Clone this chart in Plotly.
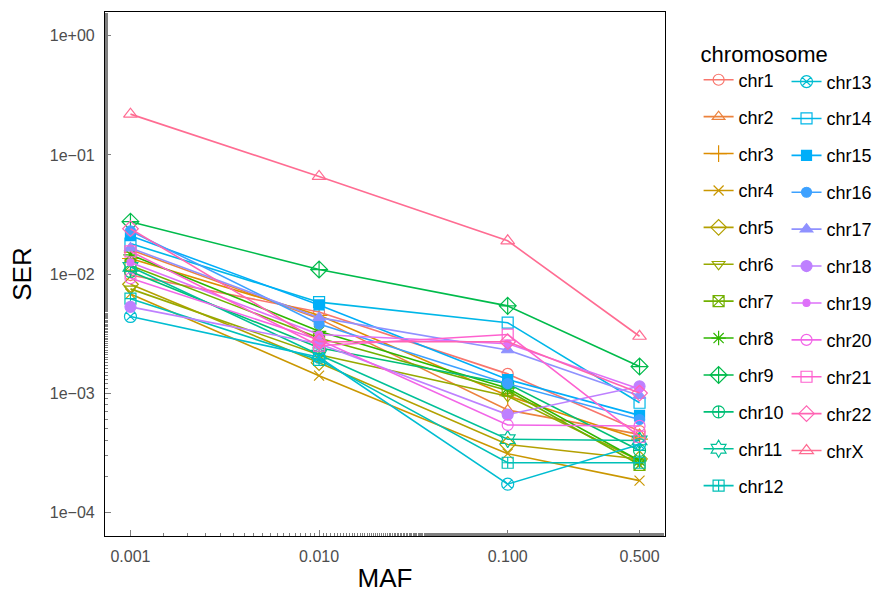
import math
import plotly.graph_objects as go

# ---------------- data ----------------
maf = [0.001, 0.01, 0.1, 0.5]
chromosomes = ["chr1", "chr2", "chr3", "chr4", "chr5", "chr6", "chr7", "chr8",
               "chr9", "chr10", "chr11", "chr12", "chr13", "chr14", "chr15",
               "chr16", "chr17", "chr18", "chr19", "chr20", "chr21", "chr22", "chrX"]
ser_chr1 = [0.0098, 0.0048, 0.00145, 0.00048]
ser_chr2 = [0.016, 0.0042, 0.00072, 0.00045]
ser_chr3 = [0.0135, 0.0045, 0.00095, 0.00041]
ser_chr4 = [0.0068, 0.0014, 0.00031, 0.000184]
ser_chr5 = [0.0082, 0.0018, 0.00037, 0.00028]
ser_chr6 = [0.0075, 0.0021, 0.00094, 0.00027]
ser_chr7 = [0.0118, 0.0029, 0.00105, 0.00025]
ser_chr8 = [0.0145, 0.0033, 0.0011, 0.00027]
ser_chr9 = [0.0275, 0.0109, 0.0054, 0.00167]
ser_chr10 = [0.0105, 0.0024, 0.0012, 0.00033]
ser_chr11 = [0.0115, 0.0021, 0.00041, 0.0004]
ser_chr12 = [0.0062, 0.0019, 0.00026, 0.00026]
ser_chr13 = [0.0044, 0.0020, 0.000172, 0.00037]
ser_chr14 = [0.018, 0.0058, 0.0039, 0.00083]
ser_chr15 = [0.021, 0.0055, 0.0013, 0.00065]
ser_chr16 = [0.023, 0.0038, 0.0012, 0.0006]
ser_chr17 = [0.0165, 0.0043, 0.0023, 0.00095]
ser_chr18 = [0.0053, 0.0026, 0.00066, 0.00114]
ser_chr19 = [0.0125, 0.0031, 0.0026, 0.00108]
ser_chr20 = [0.0092, 0.0028, 0.00054, 0.00053]
ser_chr21 = [0.0155, 0.0025, 0.0031, 0.00043]
ser_chr22 = [0.024, 0.0027, 0.0027, 0.0010]
ser_chrX = [0.22, 0.066, 0.019, 0.003]
series = [ser_chr1, ser_chr2, ser_chr3, ser_chr4, ser_chr5, ser_chr6, ser_chr7,
          ser_chr8, ser_chr9, ser_chr10, ser_chr11, ser_chr12, ser_chr13, ser_chr14,
          ser_chr15, ser_chr16, ser_chr17, ser_chr18, ser_chr19, ser_chr20,
          ser_chr21, ser_chr22, ser_chrX]

x_tickvals = [0.001, 0.01, 0.1, 0.5]
x_ticktext = ["0.001", "0.010", "0.100", "0.500"]
y_tickvals = [1e-4, 1e-3, 1e-2, 1e-1, 1]
y_ticktext = ["1e\u221204", "1e\u221203", "1e\u221202", "1e\u221201", "1e+00"]

# ---------------- styles ----------------
def hcl_hex(h, c=100.0, l=65.0):
    hr = math.radians(h)
    u, v = c * math.cos(hr), c * math.sin(hr)
    Y = ((l + 16) / 116) ** 3 if l > 8 else l / 903.3
    un, vn = 0.19784, 0.46834
    up = u / (13 * l) + un
    vp = v / (13 * l) + vn
    X = Y * 9 * up / (4 * vp)
    Z = Y * (12 - 3 * up - 20 * vp) / (4 * vp)
    r = 3.2406 * X - 1.5372 * Y - 0.4986 * Z
    g = -0.9689 * X + 1.8758 * Y + 0.0415 * Z
    b = 0.0557 * X - 0.2040 * Y + 1.0570 * Z

    def gam(t):
        t = max(0.0, min(1.0, t))
        return 12.92 * t if t <= 0.0031308 else 1.055 * t ** (1 / 2.4) - 0.055
    return "#%02X%02X%02X" % tuple(int(round(255 * gam(t))) for t in (r, g, b))

n = len(chromosomes)
colors = [hcl_hex(15 + 360 * i / n) for i in range(n)]
symbols = ["circle-open", "triangle-up-open", "cross-thin-open", "x-thin-open",
           "diamond-open", "triangle-down-open", "square-x-open", "asterisk-open",
           "diamond-cross-open", "circle-cross-open", "hexagram-open",
           "square-cross-open", "circle-x-open", "square-open", "square",
           "circle", "triangle-up", "circle", "circle", "circle-open",
           "square-open", "diamond-open", "triangle-up-open"]
sizes = [11, 11, 12, 10, 12, 11, 11, 12, 13, 12, 13, 11, 12, 11, 10, 10, 11,
         11, 7, 11, 11, 12, 12]

FONT = "Liberation Sans, Arial, sans-serif"
fig = go.Figure()
for i, (name, ys) in enumerate(zip(chromosomes, series)):
    fig.add_trace(go.Scatter(
        x=maf, y=ys, name=name, mode="lines+markers",
        line=dict(color=colors[i], width=1.6),
        marker=dict(symbol=symbols[i], size=sizes[i], color=colors[i],
                    line=dict(color=colors[i], width=1.2)),
        legend="legend" if i < 12 else "legend2",
        legendgroup=name,
    ))

axis_common = dict(
    type="log", showline=True, mirror=True, linecolor="black", linewidth=1.2,
    showgrid=False, zeroline=False, ticks="inside", ticklen=6, tickcolor="#7F7F7F",
    tickwidth=1, tickfont=dict(family=FONT, size=16, color="#4D4D4D"),
    minor=dict(ticks="inside", ticklen=3, tickcolor="#7F7F7F", showgrid=False),
    ticklabelstandoff=6,
)
fig.update_xaxes(**axis_common, range=[-3.135, -0.166], tickvals=x_tickvals,
                 ticktext=x_ticktext,
                 title=dict(text="MAF", font=dict(family=FONT, size=26, color="black"),
                            standoff=4))
fig.update_yaxes(**axis_common, range=[-4.2, 0.2], tickvals=y_tickvals,
                 ticktext=y_ticktext,
                 title=dict(text="SER", font=dict(family=FONT, size=26, color="black"),
                            standoff=10))

legend_common = dict(
    xanchor="left", yanchor="top", bgcolor="rgba(0,0,0,0)",
    font=dict(family=FONT, size=18, color="black"),
    itemwidth=30, tracegroupgap=10.5, itemclick=False, itemdoubleclick=False,
)
fig.update_layout(
    width=888, height=598,
    margin=dict(l=105, r=220, t=11, b=59),
    plot_bgcolor="white", paper_bgcolor="white",
    legend=dict(**legend_common, x=1.06, y=0.96,
                title=dict(text="chromosome", font=dict(family=FONT, size=22, color="black"))),
    legend2=dict(**legend_common, x=1.217, y=0.902),
    showlegend=True,
)
fig.write_html("out.html")
